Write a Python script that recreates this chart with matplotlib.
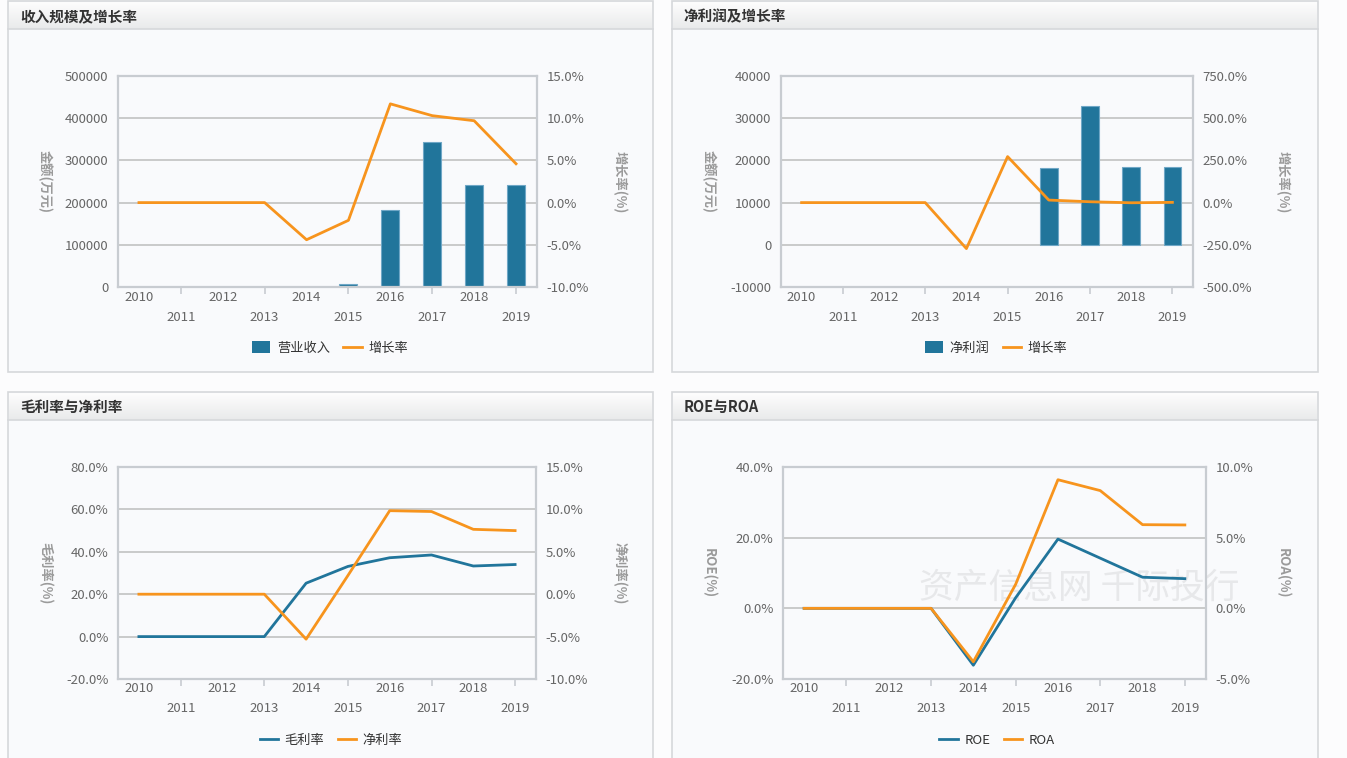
import numpy as np
import matplotlib
matplotlib.use('Agg')
import matplotlib.pyplot as plt
from matplotlib.colors import to_rgb
from matplotlib.transforms import blended_transform_factory
from matplotlib.patches import Rectangle

plt.rcParams['font.family'] = ['Noto Sans CJK SC', 'DejaVu Sans']

# 数据
years = ['2010', '2011', '2012', '2013', '2014', '2015', '2016', '2017', '2018', '2019']
revenue = [0, 0, 0, 0, 0, 6000, 183400, 343000, 242000, 242000]
revenue_growth = [0, 0, 0, 0, -4.4, -2.1, 11.7, 10.3, 9.7, 4.6]
net_profit = [0, 0, 0, 0, 0, 0, 18100, 32900, 18400, 18400]
profit_growth = [0, 0, 0, 0, -272.5, 272.5, 15.0, 5.0, -1.0, 1.5]
gross_margin = [0, 0, 0, 0, 25.2, 33.1, 37.2, 38.5, 33.3, 34.0]
net_margin = [0, 0, 0, 0, -5.3, 2.2, 9.85, 9.75, 7.65, 7.5]
roe = [0, 0, 0, 0, -16.1, 3.0, 19.6, 14.2, 8.8, 8.4]
roa = [0, 0, 0, 0, -3.78, 1.7, 9.1, 8.33, 5.92, 5.9]

W, H = 1347, 758
BLUE = '#21759b'
ORANGE = '#f7941d'
TICK_C = '#666666'
LABEL_C = '#9a9a9a'
SPINE_C = '#c8ccd1'
GRID_C = '#c6c6c6'
PANEL_BG = '#f9fafc'

fig = plt.figure(figsize=(W / 100, H / 100), dpi=100, facecolor='#fcfcfd')

# 背景层：面板框和标题栏
bg = fig.add_axes([0, 0, 1, 1])
bg.axis('off')

panels = [
    (8, 1, 653, 372, '收入规模及增长率'),
    (672, 1, 1318, 372, '净利润及增长率'),
    (8, 392, 653, 770, '毛利率与净利率'),
    (672, 392, 1318, 770, 'ROE与ROA'),
]
c_top, c_bot = np.array(to_rgb('#fdfdfd')), np.array(to_rgb('#e9eaeb'))
grad = np.linspace(0, 1, 40)[:, None, None] * (c_bot - c_top) + c_top
for l, t, r, b, title in panels:
    bg.add_patch(Rectangle((l, t), r - l, b - t, facecolor=PANEL_BG, edgecolor='#d6d8db', lw=1.2))
    bg.imshow(grad, extent=(l + 1, r - 1, t + 28, t + 1), aspect='auto', zorder=2)
    bg.plot([l, r], [t + 28, t + 28], color='#d6d8db', lw=1.2, zorder=3)
    bg.text(l + 12, t + 15, title, fontsize=10.5, fontweight='bold', color='#333333',
            ha='left', va='center', zorder=4)
bg.set_xlim(0, W)
bg.set_ylim(H, 0)


def box(l, t, r, b):
    return [l / W, 1 - b / H, (r - l) / W, (b - t) / H]


def ptext(x, y, s, **kw):
    fig.text(x / W, 1 - y / H, s, **kw)


def make_axes(l, t, r, b, left_ticks, left_fmt, right_ticks, right_fmt):
    ax = fig.add_axes(box(l, t, r, b))
    ax.set_facecolor(PANEL_BG)
    tw = ax.twinx()
    ax.set_xlim(-0.5, 9.5)
    ax.set_ylim(left_ticks[0], left_ticks[-1])
    tw.set_ylim(right_ticks[0], right_ticks[-1])
    ax.set_yticks(left_ticks)
    ax.set_yticklabels([left_fmt(v) for v in left_ticks])
    tw.set_yticks(right_ticks)
    tw.set_yticklabels([right_fmt(v) for v in right_ticks])
    ax.yaxis.grid(True, color=GRID_C, lw=1.3)
    ax.set_axisbelow(True)
    for s in ax.spines.values():
        s.set_color(SPINE_C)
        s.set_linewidth(1.6)
    for s in tw.spines.values():
        s.set_visible(False)
    ax.tick_params(axis='y', length=0, pad=7, labelsize=9.5, labelcolor=TICK_C)
    tw.tick_params(axis='y', length=0, pad=7, labelsize=9.5, labelcolor=TICK_C)
    # x 轴：奇数年有刻度线，标签分两行
    ax.set_xticks([1, 3, 5, 7, 9])
    ax.set_xticklabels([])
    ax.tick_params(axis='x', length=5, width=1.2, color=SPINE_C)
    trans = blended_transform_factory(ax.transData, ax.transAxes)
    hpx = b - t
    for i, yr in enumerate(years):
        off = 10 if i % 2 == 0 else 30
        ax.text(i, -off / hpx, yr, transform=trans, ha='center', va='center',
                fontsize=9.5, color=TICK_C, clip_on=False)
    return ax, tw


def label_pair(xl, xr, yc, left, right):
    for x, s in ((xl, left), (xr, right)):
        ptext(x, yc, s, rotation=-90, ha='center', va='center', fontsize=9.5,
              fontweight='bold', color=LABEL_C)


x = np.arange(len(years))
int_fmt = lambda v: '%d' % v
pct_fmt = lambda v: '%.1f%%' % v

# 收入规模及增长率
ax1, tw1 = make_axes(118, 76, 537, 287, list(range(0, 500001, 100000)), int_fmt,
                     list(range(-10, 16, 5)), pct_fmt)
b1 = ax1.bar(x, revenue, width=0.43, color=BLUE, edgecolor='#6fa7c6',
             lw=[0.8 if v else 0 for v in revenue], label='营业收入')
l1, = tw1.plot(x, revenue_growth, color=ORANGE, lw=2.0, label='增长率')
label_pair(45, 620, 182, '金额(万元)', '增长率(%)')

# 净利润及增长率
ax2, tw2 = make_axes(781, 76, 1193, 287, list(range(-10000, 40001, 10000)), int_fmt,
                     list(range(-500, 751, 250)), pct_fmt)
b2 = ax2.bar(x, net_profit, width=0.43, color=BLUE, edgecolor='#6fa7c6',
             lw=[0.8 if v else 0 for v in net_profit], label='净利润')
l2, = tw2.plot(x, profit_growth, color=ORANGE, lw=2.0, label='增长率')
label_pair(709, 1283, 182, '金额(万元)', '增长率(%)')

# 毛利率与净利率
ax3, tw3 = make_axes(118, 467, 536, 679, list(range(-20, 81, 20)), pct_fmt,
                     list(range(-10, 16, 5)), pct_fmt)
l3a, = ax3.plot(x, gross_margin, color=BLUE, lw=2.0, label='毛利率')
l3b, = tw3.plot(x, net_margin, color=ORANGE, lw=2.0, label='净利率')
label_pair(45, 620, 573, '毛利率(%)', '净利率(%)')

# ROE与ROA
ax4, tw4 = make_axes(783, 467, 1206, 679, list(range(-20, 41, 20)), pct_fmt,
                     list(range(-5, 11, 5)), pct_fmt)
ax4.text(1079 / W, 1 - 588 / H, '资产信息网 千际投行', transform=fig.transFigure,
         fontsize=25, color='#e7e8ea', ha='center', va='center', zorder=0.5)
l4a, = ax4.plot(x, roe, color=BLUE, lw=2.0, label='ROE')
l4b, = tw4.plot(x, roa, color=ORANGE, lw=2.0, label='ROA')
label_pair(709, 1283, 573, 'ROE(%)', 'ROA(%)')

# 图例
legends = [
    ([b1, l1], 330, 348),
    ([b2, l2], 996, 348),
    ([l3a, l3b], 331, 740),
    ([l4a, l4b], 997, 740),
]
for handles, cx, cy in legends:
    fig.legend(handles, [h.get_label() for h in handles], loc='center',
               bbox_to_anchor=(cx / W, 1 - cy / H), ncol=2, frameon=False,
               fontsize=9.5, handlelength=1.4, handleheight=1.0, columnspacing=1.0,
               handletextpad=0.5, labelcolor='#333333')

fig.savefig('out.png', dpi=100, facecolor=fig.get_facecolor())
